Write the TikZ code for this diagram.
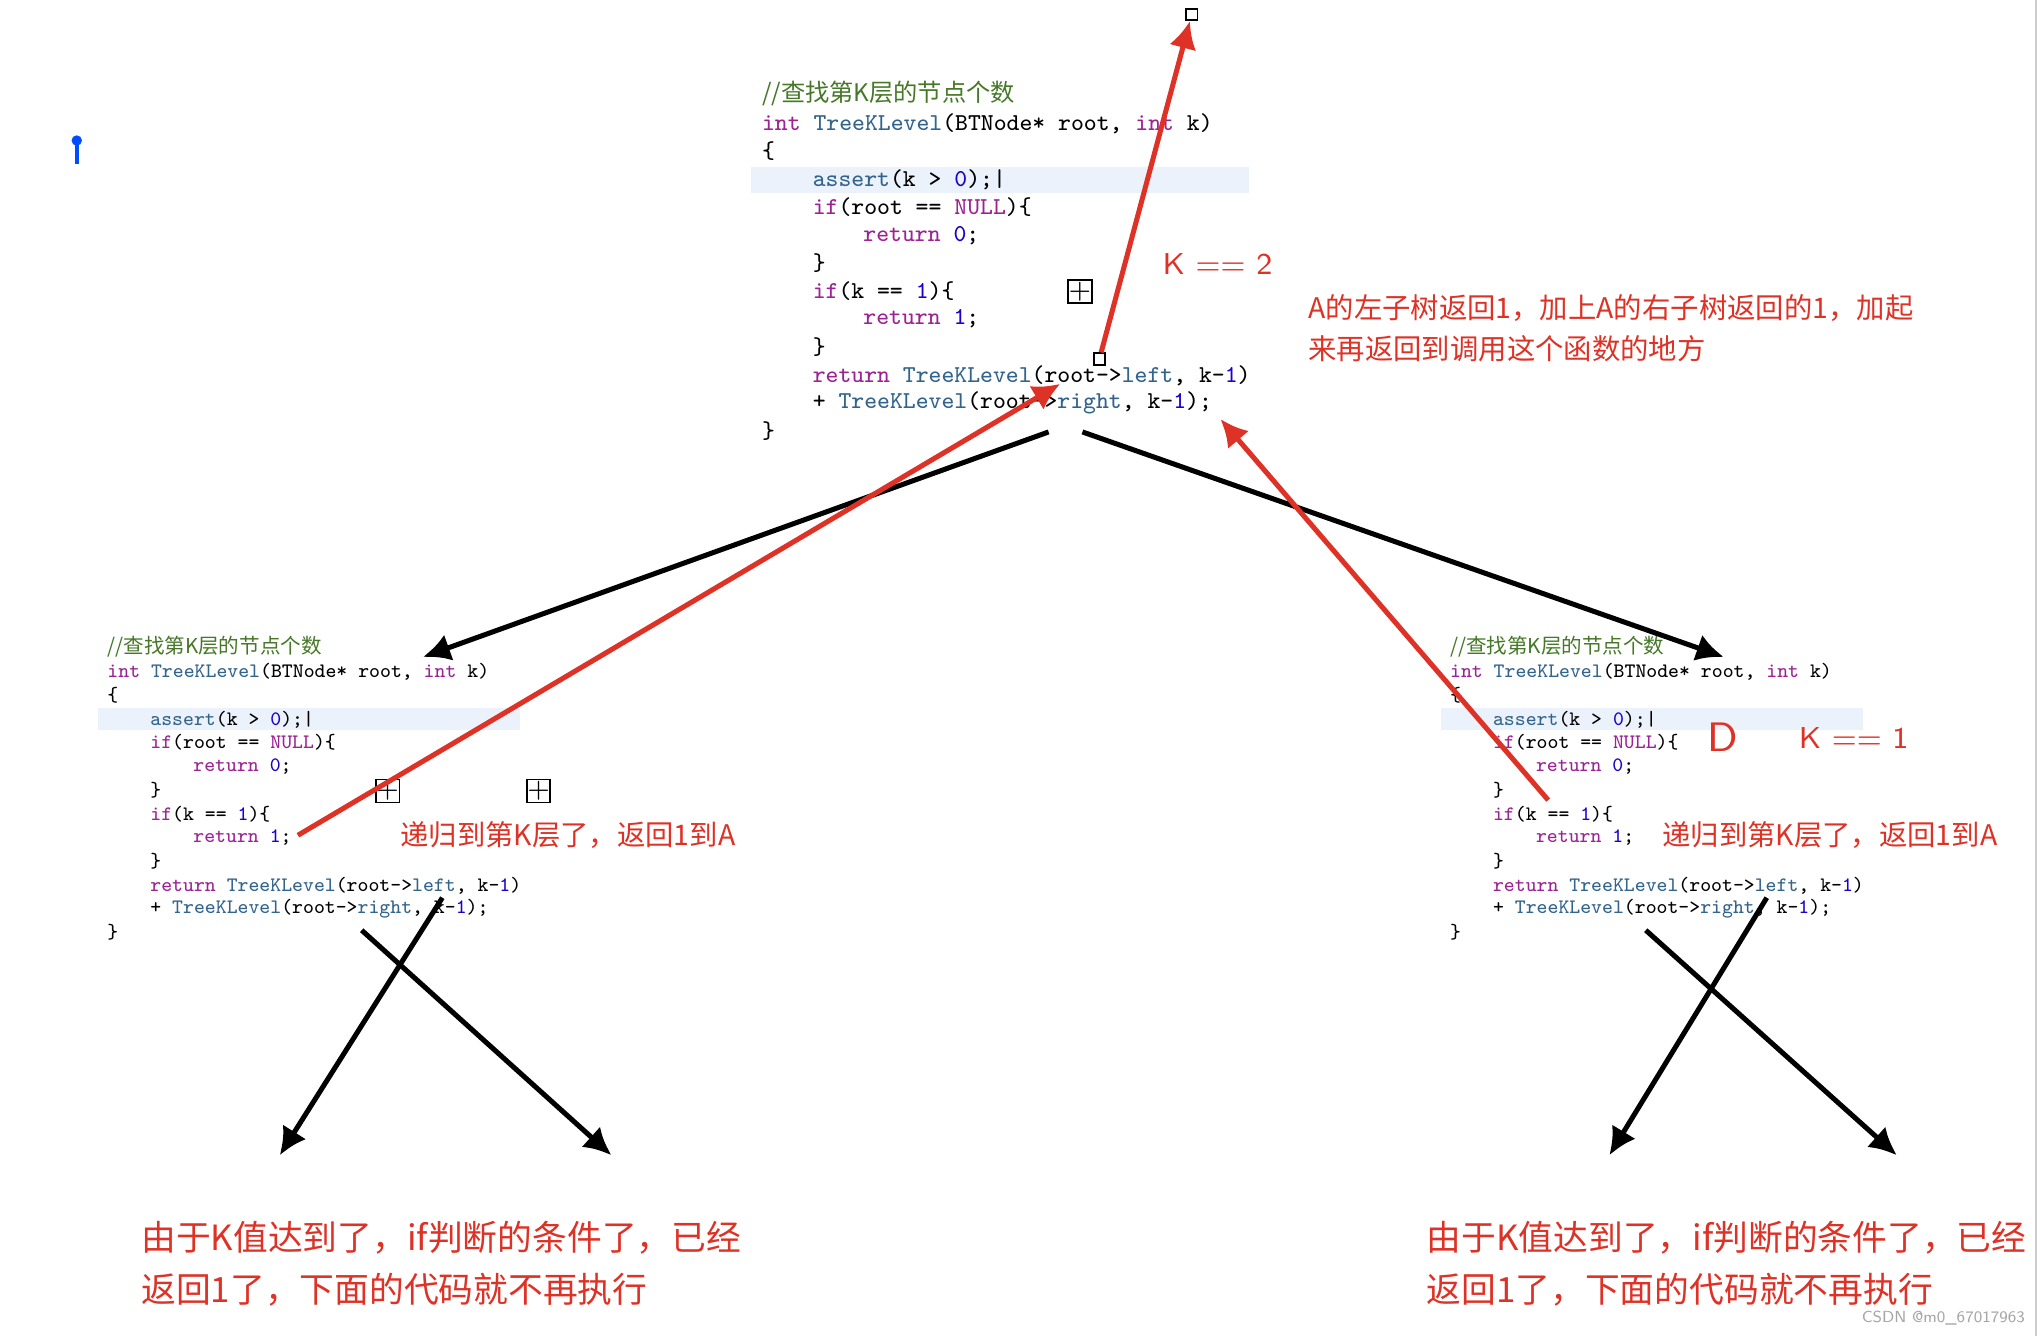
\documentclass[tikz,border=0pt]{standalone}
\usepackage{fontspec}
\newfontfamily\cjk{Noto Sans CJK SC}
\definecolor{kwc}{RGB}{155,35,147}
\definecolor{fnc}{RGB}{50,100,140}
\definecolor{nmc}{RGB}{28,0,207}
\definecolor{cmc}{RGB}{70,120,40}
\definecolor{redc}{RGB}{222,50,38}
\definecolor{hlc}{RGB}{236,242,252}
\newcommand{\kw}[1]{\textcolor{kwc}{#1}}
\newcommand{\fn}[1]{\textcolor{fnc}{#1}}
\newcommand{\nm}[1]{\textcolor{nmc}{#1}}
% one code listing, #1 = name prefix
\newcommand{\codeblock}[1]{%
  \fill[hlc] (-8,56) rectangle (375,76);
  \node[code] (#1l0) at (0,0) {\textcolor{cmc}{\cjk //查找第K层的节点个数}};
  \node[code] (#1l1) at (0,23) {\kw{int} \fn{TreeKLevel}(BTNode* root, \kw{int} k)};
  \node[code] (#1l2) at (0,44) {\{};
  \node[code] (#1l3) at (39,66) {\fn{assert}(k > \nm{0});|};
  \node[code] (#1l4) at (39,87) {\kw{if}(root == \kw{NULL})\{};
  \node[code] (#1l5) at (78,109) {\kw{return} \nm{0};};
  \node[code] (#1l6) at (39,130) {\}};
  \node[code] (#1l7) at (39,152) {\kw{if}(k == \nm{1})\{};
  \node[code] (#1l8) at (78,173) {\kw{return} \nm{1};};
  \node[code] (#1l9) at (39,195) {\}};
  \node[code] (#1l10) at (39,217) {\kw{return} \fn{TreeKLevel}(root->\fn{left}, k-\nm{1})};
  \node[code] (#1l11) at (39,238) {+ \fn{TreeKLevel}(root->\fn{right}, k-\nm{1});};
  \node[code] (#1l12) at (0,259) {\}};
}
\tikzset{
  code/.style={anchor=west,inner sep=0pt,font=\ttfamily\fontsize{5.3}{6}\selectfont},
  blk/.style={line width=1.1pt,-{Latex[length=6pt,width=6pt]}},
  redarr/.style={draw=redc,line width=1.1pt,-{Latex[length=6pt,width=6pt]}},
  note/.style={anchor=west,inner sep=0pt,text=redc,font=\cjk\fontsize{6.2}{7}\selectfont},
  bignote/.style={anchor=west,inner sep=0pt,text=redc,font=\cjk\fontsize{7.6}{9}\selectfont},
  plusbox/.style={draw,minimum size=5pt,inner sep=0pt,line width=0.4pt},
  tinybox/.style={draw,fill=white,minimum size=2.5pt,inner sep=0pt,line width=0.4pt}
}
\usetikzlibrary{arrows.meta}
\begin{document}
\begin{tikzpicture}[x=0.01cm,y=-0.01cm]
  \useasboundingbox[fill=white] (0,0) rectangle (1568,1027);
  \draw[gray!40,line width=0.6pt] (1565,0) -- (1565,1027);
  % pin
  \draw[blue!70!cyan,line width=0.8pt] (59,108) -- (59,126);
  \fill[blue!70!cyan] (59,108) circle (4);
  % listings
  \begin{scope}[shift={(585,72)}]
    \codeblock{a}
  \end{scope}
  \begin{scope}[shift={(82,497)},scale=0.847,every node/.append style={transform shape}]
    \codeblock{b}
  \end{scope}
  \begin{scope}[shift={(1114,497)},scale=0.847,every node/.append style={transform shape}]
    \codeblock{c}
  \end{scope}
  \node[plusbox] (p1) at (830,224) {\tiny +};
  \node[plusbox] (p2) at (298,608) {\tiny +};
  \node[plusbox] (p3) at (414,608) {\tiny +};
  % calls
  \coordinate (ta) at (806,332);
  \coordinate (tb) at (832,332);
  \coordinate (bl) at (325,505);
  \coordinate (br) at (1325,505);
  \draw[blk] (ta) -- (bl);
  \draw[blk] (tb) -- (br);
  \coordinate (l1) at (340,690); \coordinate (l2) at (215,888);
  \coordinate (l3) at (278,715); \coordinate (l4) at (470,888);
  \coordinate (r1) at (1358,690); \coordinate (r2) at (1237,888);
  \coordinate (r3) at (1265,715); \coordinate (r4) at (1458,888);
  \draw[blk] (l1) -- (l2);
  \draw[blk] (l3) -- (l4);
  \draw[blk] (r1) -- (r2);
  \draw[blk] (r3) -- (r4);
  % returns
  \node[tinybox] (s1) at (845,276) {};
  \node[tinybox] (s2) at (916,11) {};
  \draw[redarr] (s1) -- (s2);
  \coordinate (rl) at (229,642); \coordinate (rlt) at (815,295);
  \coordinate (rr) at (1190,615); \coordinate (rrt) at (938,322);
  \draw[redarr] (rl) -- (rlt);
  \draw[redarr] (rr) -- (rrt);
  % notes
  \node[note,font=\sffamily\fontsize{6.6}{7}\selectfont] (k2) at (893,203) {K == 2};
  \node[note] (n1) at (1005,237) {A的左子树返回1，加上A的右子树返回的1，加起};
  \node[note] (n2) at (1005,268) {来再返回到调用这个函数的地方};
  \node[note] (n3) at (307,642) {递归到第K层了，返回1到A};
  \node[note] (n4) at (1277,642) {递归到第K层了，返回1到A};
  \node[note,font=\sffamily\fontsize{9}{10}\selectfont] (d) at (1312,567) {D};
  \node[note,font=\sffamily\fontsize{6.6}{7}\selectfont] (k1) at (1382,567) {K == 1};
  \node[bignote] (m1) at (108,951) {由于K值达到了，if判断的条件了，已经};
  \node[bignote] (m2) at (108,991) {返回1了，下面的代码就不再执行};
  \node[bignote] (m3) at (1096,951) {由于K值达到了，if判断的条件了，已经};
  \node[bignote] (m4) at (1096,991) {返回1了，下面的代码就不再执行};
  \node[anchor=east,inner sep=0pt,text=gray!70,font=\sffamily\fontsize{3.5}{4}\selectfont] (wm) at (1557,1013) {CSDN @m0\_67017963};
\end{tikzpicture}
\end{document}
